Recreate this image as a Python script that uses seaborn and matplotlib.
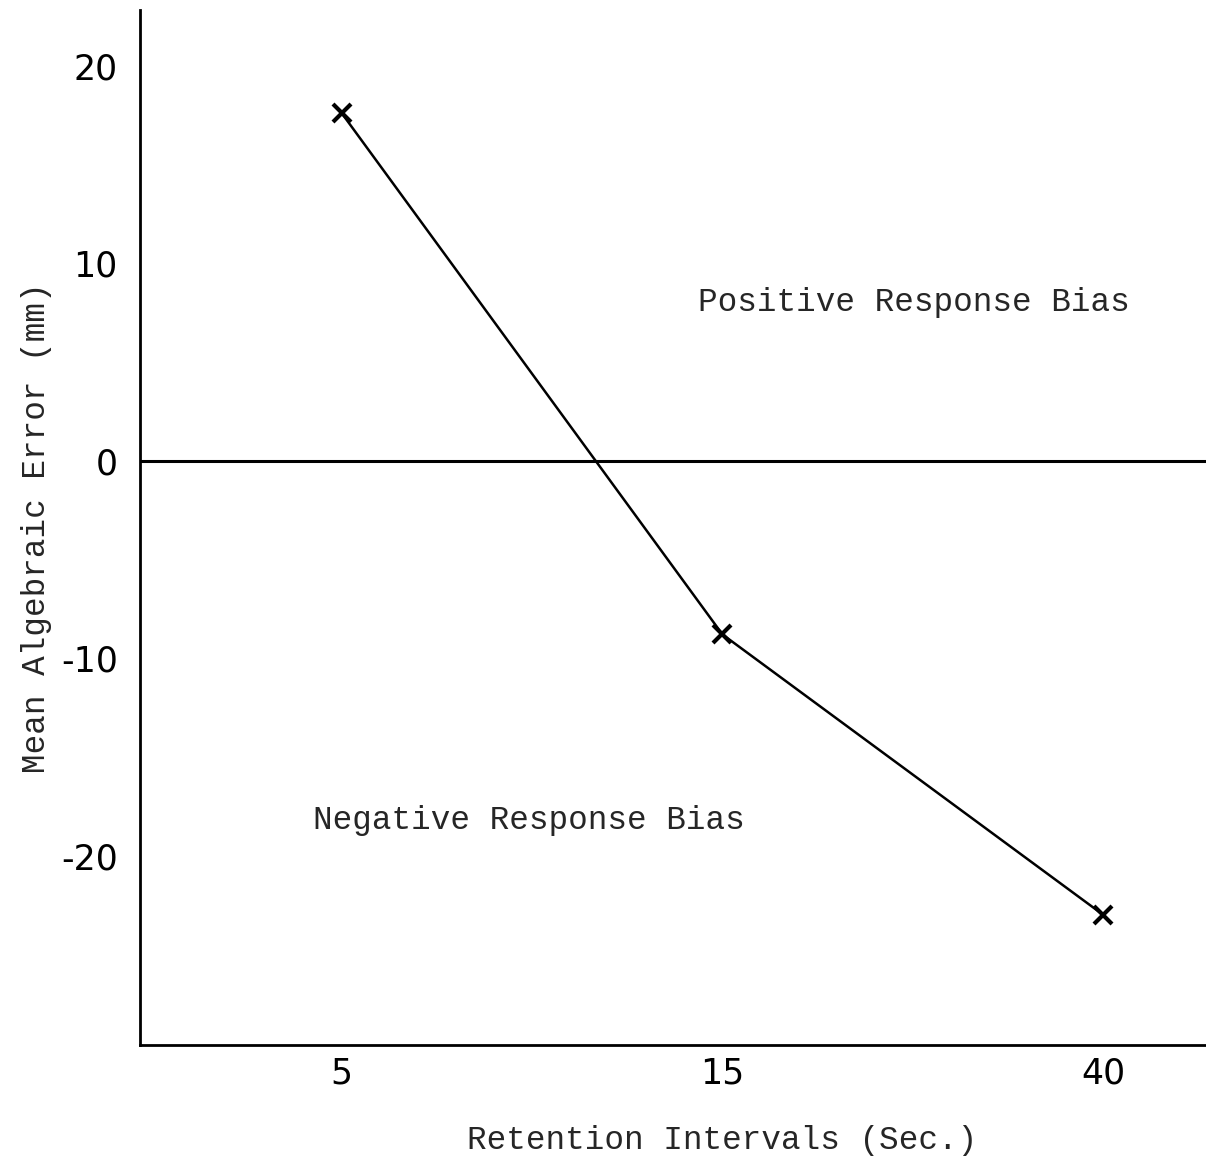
import matplotlib
matplotlib.use("Agg")
import matplotlib.pyplot as plt
import seaborn as sns
import pandas as pd

intervals = ["5", "15", "40"]
mean_error = [17.6, -8.8, -23.0]
y_ticks = [-20, -10, 0, 10, 20]
y_tick_labels = ["-20", "-10", "0", "10", "20"]

sns.set_theme(style="white")
plt.rcParams['font.family'] = ['DejaVu Sans']

fig = plt.figure(figsize=(12.06, 11.6), dpi=100)
ax = fig.add_axes([0.116, 0.099, 0.884, 0.892])

df = pd.DataFrame({"interval": intervals, "error": mean_error})
sns.pointplot(data=df, x="interval", y="error", ax=ax, color="black",
              markers="x", linestyles="-", errorbar=None)
for l in ax.lines:
    l.set_linewidth(1.8)
    l.set_markersize(13)
    l.set_markeredgewidth(3)

ax.axhline(0, color="black", lw=2.2, zorder=1)

ax.set_xlim(-0.53, 2.27)
ax.set_ylim(-29.6, 22.8)
ax.set_yticks(y_ticks)
ax.set_yticklabels(y_tick_labels)
ax.tick_params(axis="both", length=0, labelsize=25, colors="black")
ax.tick_params(axis="y", pad=16)
ax.tick_params(axis="x", pad=8)

for s in ["top", "right"]:
    ax.spines[s].set_visible(False)
for s in ["left", "bottom"]:
    ax.spines[s].set_color("black")
    ax.spines[s].set_linewidth(2)

mono = "Liberation Mono"
ax.set_xlabel("Retention Intervals (Sec.)", fontsize=23.5, family=mono)
ax.xaxis.set_label_coords(0.546, -0.077)
ax.set_ylabel("Mean Algebraic Error (mm)", fontsize=23.5, family=mono, labelpad=6)

ax.text(0.937, 8.0, "Positive Response Bias", fontsize=23.5, family=mono, va="center", ha="left")
ax.text(-0.076, -18.2, "Negative Response Bias", fontsize=23.5, family=mono, va="center", ha="left")

fig.savefig("out.png", dpi=100, facecolor="white")
